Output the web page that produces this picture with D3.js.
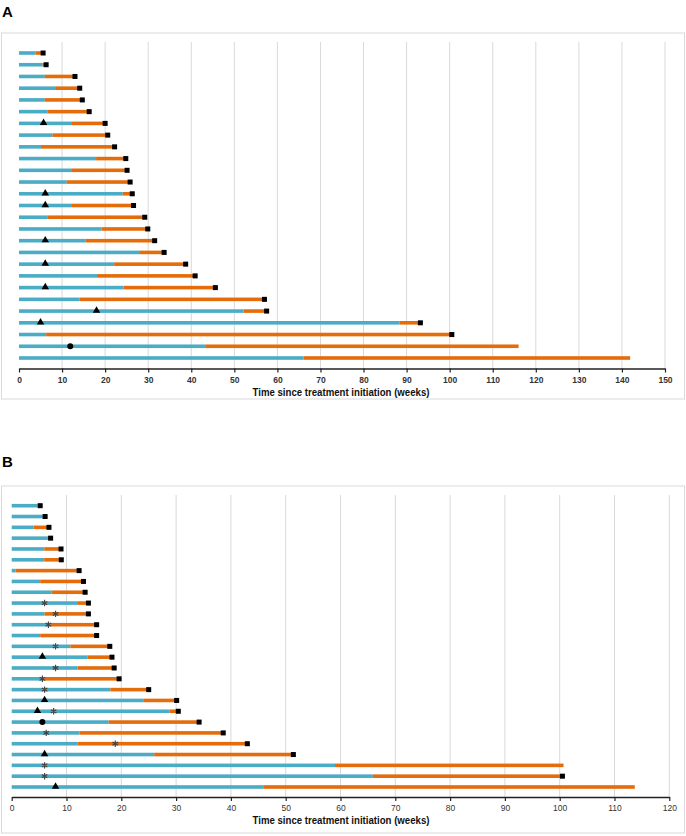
<!DOCTYPE html>
<html>
<head>
<meta charset="utf-8">
<script src="https://cdn.jsdelivr.net/npm/d3@7"></script>
<style>
  html, body { margin: 0; padding: 0; background: #fff; }
  svg { display: block; font-family: "Liberation Sans", Arial, sans-serif; }
</style>
</head>
<body>
<svg id="chart" width="686" height="836"></svg>
<script>
// ---------------- Panel A data (rows top to bottom) ----------------
const blueEndA  = [3.9, 5.5, 6.0, 8.4, 6.0, 6.7, 12.1, 7.8, 5.1, 17.9, 12.1, 11.1, 24.1, 12.1, 6.7, 19.2, 15.5, 27.9, 22.1, 18.1, 24.3, 14.1, 52.1, 88.4, 6.3, 43.4, 66.1];
const totalEndA = [5.6, 6.3, 13.0, 14.1, 14.7, 16.3, 20.0, 20.6, 22.2, 24.8, 25.1, 25.8, 26.3, 26.6, 29.2, 29.9, 31.5, 33.7, 38.7, 40.9, 45.6, 57.0, 57.5, 93.2, 100.5, 116.0, 141.9];
const squareA   = [1,1,1,1,1,1,1,1,1,1,1,1,1,1,1,1,1,1,1,1,1,1,1,1,1,0,0];
const trianglesA = [[6, 5.7], [12, 6.1], [13, 6.1], [16, 6.1], [18, 6.1], [20, 6.1], [22, 18.0], [23, 5.0]]; // [row, week]
const circlesA   = [[25, 11.9]];
const asterisksA = [];
const ticksA = [0,10,20,30,40,50,60,70,80,90,100,110,120,130,140,150];

// ---------------- Panel B data (rows top to bottom) ----------------
const blueEndB  = [4.7, 6.0, 4.0, 7.1, 5.95, 5.95, 0.7, 5.2, 7.3, 12.1, 6.0, 7.1, 5.2, 10.7, 13.8, 12.0, 5.95, 18.0, 24.0, 28.8, 17.7, 12.4, 12.0, 26.0, 59.0, 65.9, 45.9];
const totalEndB = [5.2, 6.1, 6.8, 7.1, 9.0, 9.05, 12.3, 13.1, 13.4, 14.0, 14.0, 15.5, 15.5, 17.9, 18.3, 18.7, 19.6, 25.0, 30.1, 30.4, 34.2, 38.6, 43.0, 51.4, 100.7, 100.5, 113.7];
const squareB   = [1,1,1,1,1,1,1,1,1,1,1,1,1,1,1,1,1,1,1,1,1,1,1,1,0,1,0];
const trianglesB = [[14, 5.6], [18, 6.0], [19, 4.7], [23, 6.0], [26, 8.0]];
const circlesB   = [[20, 5.6]];
const asterisksB = [[9, 6.0], [10, 8.0], [11, 6.7], [13, 8.0], [15, 8.0], [16, 5.6], [17, 6.0], [19, 7.65], [21, 6.3], [22, 18.9], [24, 6.0], [25, 6.0]];
const ticksB = [0,10,20,30,40,50,60,70,80,90,100,110,120];

const axisTitle = "Time since treatment initiation (weeks)";
const BLUE = "#4bacc6", ORANGE = "#e46c0a";

const svg = d3.select("#chart");

function panel(cfg) {
  const g = svg.append("g");
  g.append("rect").attr("x", 1.5).attr("y", cfg.boxTop).attr("width", 683).attr("height", cfg.boxBottom - cfg.boxTop)
    .attr("fill", "none").attr("stroke", "#d9d9d9").attr("stroke-width", 1);
  g.append("text").attr("x", 2).attr("y", cfg.letterY).text(cfg.letter)
    .attr("font-size", 15).attr("font-weight", "bold").attr("fill", "#000");

  const x = d3.scaleLinear().domain(cfg.domain).range(cfg.xRange);
  const rows = d3.range(cfg.blue.length);
  const y = d3.scalePoint().domain(rows).range(cfg.yRange);

  g.append("g").selectAll("line").data(cfg.ticks.filter(t => t > 0)).join("line")
    .attr("x1", d => x(d)).attr("x2", d => x(d))
    .attr("y1", cfg.gridTop).attr("y2", cfg.axisY)
    .attr("stroke", "#d9d9d9").attr("stroke-width", 1);

  const bh = 3.6;
  g.append("g").selectAll("rect").data(rows).join("rect")
    .attr("x", x(0)).attr("y", i => y(i) - bh / 2)
    .attr("width", i => x(Math.min(cfg.blue[i], cfg.total[i])) - x(0))
    .attr("height", bh).attr("fill", BLUE);
  g.append("g").selectAll("rect").data(rows.filter(i => cfg.total[i] > cfg.blue[i])).join("rect")
    .attr("x", i => x(cfg.blue[i])).attr("y", i => y(i) - bh / 2)
    .attr("width", i => x(cfg.total[i]) - x(cfg.blue[i]))
    .attr("height", bh).attr("fill", ORANGE);

  const sq = 5;
  g.append("g").selectAll("rect").data(rows.filter(i => cfg.square[i])).join("rect")
    .attr("x", i => x(cfg.total[i]) - sq / 2).attr("y", i => y(i) - sq / 2)
    .attr("width", sq).attr("height", sq).attr("fill", "#000");

  g.append("g").selectAll("path").data(cfg.triangles).join("path")
    .attr("transform", d => `translate(${x(d[1])},${y(d[0]) - 0.5})`)
    .attr("d", d3.symbol(d3.symbolTriangle, 24)()).attr("fill", "#000");
  g.append("g").selectAll("circle").data(cfg.circles).join("circle")
    .attr("cx", d => x(d[1])).attr("cy", d => y(d[0])).attr("r", 3).attr("fill", "#000");
  const a = 3.2;
  const astPath = `M0,${-a}L0,${a}M${-a * 0.87},${-a * 0.5}L${a * 0.87},${a * 0.5}M${-a * 0.87},${a * 0.5}L${a * 0.87},${-a * 0.5}`;
  g.append("g").selectAll("path").data(cfg.asterisks).join("path")
    .attr("transform", d => `translate(${x(d[1])},${y(d[0])})`)
    .attr("d", astPath).attr("stroke", "#444").attr("stroke-width", 1.2).attr("fill", "none");

  const ax = g.append("g").attr("transform", `translate(0,${cfg.axisY})`)
    .call(d3.axisBottom(x).tickValues(cfg.ticks).tickSize(4).tickSizeOuter(0).tickPadding(4));
  ax.select(".domain").attr("stroke", "#222").attr("stroke-width", 1.5);
  ax.selectAll(".tick line").attr("stroke", "#222").attr("stroke-width", 1.2);
  ax.selectAll(".tick text").attr("font-size", 8.5).attr("fill", "#333")
    .attr("font-family", "'Liberation Sans', Arial, sans-serif").attr("font-weight", cfg.tickBold ? "bold" : "normal");

  g.append("text").attr("x", 341).attr("y", cfg.titleY).attr("text-anchor", "middle")
    .attr("font-size", 11).attr("font-weight", "bold").attr("fill", "#111")
    .attr("textLength", 177).attr("lengthAdjust", "spacingAndGlyphs")
    .text(axisTitle);
}

panel({
  letter: "A", letterY: 17, boxTop: 33, boxBottom: 399,
  domain: [0, 150], xRange: [19, 665], yRange: [53, 358],
  gridTop: 42, axisY: 368.5, titleY: 396,
  blue: blueEndA, total: totalEndA, square: squareA,
  triangles: trianglesA, circles: circlesA, asterisks: asterisksA, ticks: ticksA, tickBold: true
});

panel({
  letter: "B", letterY: 467, boxTop: 486, boxBottom: 833,
  domain: [0, 120], xRange: [11.7, 669.3], yRange: [505.7, 787],
  gridTop: 495, axisY: 797, titleY: 824,
  blue: blueEndB, total: totalEndB, square: squareB,
  triangles: trianglesB, circles: circlesB, asterisks: asterisksB, ticks: ticksB, tickBold: false
});
</script>
</body>
</html>
